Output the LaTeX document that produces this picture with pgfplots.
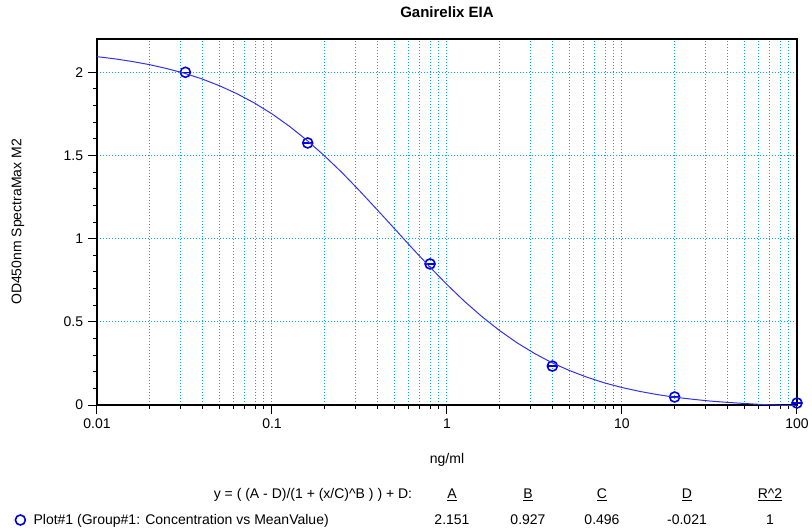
\documentclass[border=0pt]{standalone}
\usepackage{pgfplots}
\pgfplotsset{compat=1.18}
\usepackage{fontspec}
\setmainfont{Liberation Sans}

\definecolor{gridcyan}{RGB}{0,170,240}
\definecolor{curveblue}{RGB}{50,50,235}
\definecolor{markblue}{RGB}{0,0,225}

% fitted 4PL curve, sampled every 0.1 decade
\pgfplotstableread{
x y
0.01 2.094
0.01259 2.081
0.01585 2.065
0.01995 2.046
0.02512 2.022
0.03162 1.994
0.03981 1.960
0.05012 1.919
0.06310 1.871
0.07943 1.815
0.1 1.750
0.1259 1.675
0.1585 1.591
0.1995 1.498
0.2512 1.397
0.3162 1.288
0.3981 1.175
0.5012 1.060
0.6310 0.944
0.7943 0.832
1 0.724
1.259 0.623
1.585 0.531
1.995 0.448
2.512 0.374
3.162 0.310
3.981 0.254
5.012 0.207
6.310 0.167
7.943 0.133
10 0.105
12.59 0.082
15.85 0.063
19.95 0.047
25.12 0.035
31.62 0.024
39.81 0.016
50.12 0.009
63.10 0.003
79.43 -0.001
100 -0.005
}\curve

\pgfplotstableread{
x y
0.032 2.000
0.16 1.575
0.8 0.848
4 0.234
20 0.048
100 0.012
}\points

\begin{document}
\fontsize{14bp}{16bp}\selectfont
\begin{tikzpicture}
\useasboundingbox (-97bp,-124bp) rectangle (715bp,405bp);
\begin{axis}[
    at={(0,0)}, anchor=south west,
    scale only axis, width=700bp, height=366bp,
    xmode=log, xmin=0.01, xmax=100, ymin=0, ymax=2.2,
    xtick={0.01,0.1,1,10,100}, xticklabels={0.01,0.1,1,10,100},
    minor xtick={0.02,0.03,0.04,0.05,0.06,0.07,0.08,0.09,0.2,0.3,0.4,0.5,0.6,0.7,0.8,0.9,2,3,4,5,6,7,8,9,20,30,40,50,60,70,80,90},
    ytick={0,0.5,1,1.5,2}, yticklabels={0,0.5,1,1.5,2},
    minor y tick num=4,
    xtick pos=bottom, ytick pos=left,
    tick align=outside,
    major tick length=9bp, minor tick length=4bp,
    every tick/.style={black, line width=1bp},
    axis line style={black, line width=1.3bp},
    xmajorgrids, xminorgrids, ymajorgrids,
    major grid style={gridcyan, line width=1bp, dash pattern=on 1.5bp off 1.5bp},
    minor grid style={gridcyan, line width=1bp, dash pattern=on 1.5bp off 1.5bp},
    tick label style={font=\fontsize{14bp}{16bp}\selectfont},
    title={\bfseries Ganirelix EIA},
    title style={at={(axis description cs:0.5,1.0574)}, anchor=center, font=\fontsize{15bp}{17bp}\selectfont},
    xlabel={ng/ml},
    xlabel style={at={(axis description cs:0.5,-0.1503)}, anchor=center},
    ylabel={OD450nm SpectraMax M2},
    ylabel style={at={(axis description cs:-0.1129,0.5)}, anchor=center},
    clip mode=individual,
    legend style={at={(axis description cs:-0.1186,-0.3142)}, anchor=west,
        draw=none, fill=none, inner sep=0pt,
        font=\fontsize{14bp}{16bp}\selectfont},
    legend image code/.code={\draw[#1] plot coordinates {(6bp,0bp)}; \path (0bp,0bp) (17bp,0bp);},
]
\addplot[only marks, mark=o, mark size=5bp, markblue, mark options={line width=1.6bp}] table {\points};
\addlegendentry{Plot\#1 (Group\#1: Concentration vs MeanValue)}
\addplot[only marks, mark=-, mark size=5bp, markblue, mark options={line width=1.2bp}, forget plot] table {\points};
\addplot[curveblue, line width=1bp, forget plot] table {\curve};
\end{axis}
\node[anchor=east] at (320bp,-90bp) {y = ( (A - D)/(1 + (x/C)\textasciicircum B ) ) + D:};
\node at (355bp,-90bp) {\underline{A}};
\node at (431bp,-90bp) {\underline{B}};
\node at (505bp,-90bp) {\underline{C}};
\node at (590bp,-90bp) {\underline{D}};
\node at (673bp,-90bp) {\underline{R\textasciicircum 2}};
\node at (355bp,-115bp) {2.151};
\node at (431bp,-115bp) {0.927};
\node at (505bp,-115bp) {0.496};
\node at (590bp,-115bp) {-0.021};
\node at (673bp,-115bp) {1};
\end{tikzpicture}
\end{document}
